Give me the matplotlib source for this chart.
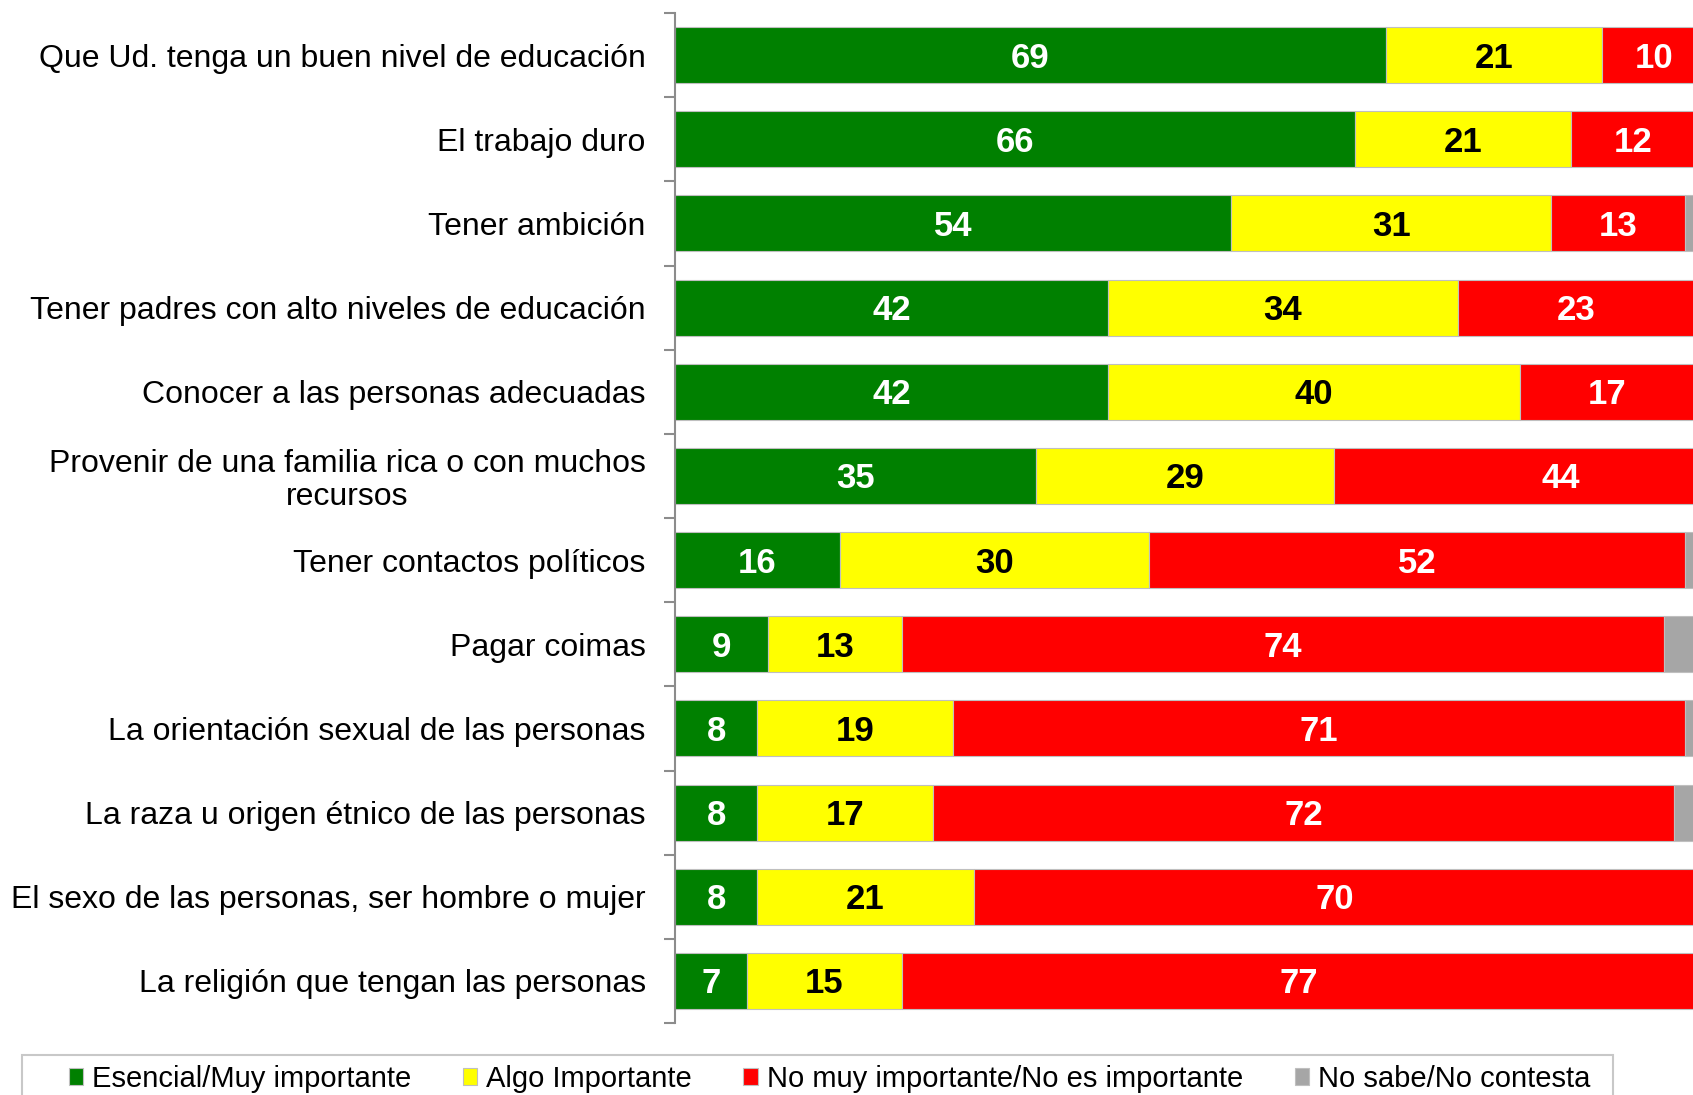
import matplotlib
matplotlib.use("Agg")
import matplotlib.pyplot as plt
from matplotlib.patches import Rectangle
import numpy as np

categories = [
    "Que Ud. tenga un buen nivel de educación",
    "El trabajo duro",
    "Tener ambición",
    "Tener padres con alto niveles de educación",
    "Conocer a las personas adecuadas",
    "Provenir de una familia rica o con muchos\nrecursos",
    "Tener contactos políticos",
    "Pagar coimas",
    "La orientación sexual de las personas",
    "La raza u origen étnico de las personas",
    "El sexo de las personas, ser hombre o mujer",
    "La religión que tengan las personas",
]
esencial = [69, 66, 54, 42, 42, 35, 16, 9, 8, 8, 8, 7]
algo = [21, 21, 31, 34, 40, 29, 30, 13, 19, 17, 21, 15]
no_muy = [10, 12, 13, 23, 17, 44, 52, 74, 71, 72, 70, 77]
no_sabe = [0, 1, 2, 1, 1, 0, 2, 4, 2, 3, 1, 1]

series_names = ["Esencial/Muy importante", "Algo Importante",
                "No muy importante/No es importante", "No sabe/No contesta"]
colors = ["#008000", "#FFFF00", "#FF0000", "#A6A6A6"]
text_colors = ["white", "black", "white", None]

plt.rcParams['font.family'] = ['Liberation Sans', 'DejaVu Sans']

W, H = 1693, 1095
fig = plt.figure(figsize=(W / 100, H / 100), dpi=100)
ax = fig.add_axes([675 / W, 1 - 1023 / H, (W - 675) / W, (1023 - 13) / H])

n = len(categories)
y = np.arange(n)
data = [esencial, algo, no_muy, no_sabe]
left = np.zeros(n)
for vals, col, tc, name in zip(data, colors, text_colors, series_names):
    vals = np.array(vals, dtype=float)
    ax.barh(y, vals, left=left, height=0.665, color=col,
            edgecolor="#BFBFBF", linewidth=0.8, label=name)
    if tc is not None:
        for yi, l, v in zip(y, left, vals):
            ax.text(l + v / 2, yi + 0.035, f"{int(v)}", ha="center", va="center",
                    color=tc, fontsize=25, fontweight="bold")
    left += vals

ax.set_xlim(0, 98.8)
ax.set_ylim(n - 0.5, -0.5)
ax.set_yticks(y)
ax.set_yticklabels(categories, fontsize=23, linespacing=1.1,
                   multialignment="center")
ax.tick_params(axis="y", which="major", length=0, pad=21)
ax.set_yticks(np.arange(-0.5, n, 1.0), minor=True)
ax.tick_params(axis="y", which="minor", length=8, width=1.5, color="#8C8C8C")
ax.set_xticks([])
for s in ["top", "right", "bottom"]:
    ax.spines[s].set_visible(False)
ax.spines["left"].set_color("#8C8C8C")
ax.spines["left"].set_linewidth(1.5)

# legend box
fig.patches.append(Rectangle((22 / W, -0.05), (1613 - 22) / W, 0.05 + 1 - 1055 / H,
                             transform=fig.transFigure, facecolor="none",
                             edgecolor="#C8C8C8", linewidth=1.5))
handles, labels = ax.get_legend_handles_labels()
leg = fig.legend(handles, labels, loc="center left", ncol=4,
                 bbox_to_anchor=(68.5 / W, 1 - 1079 / H),
                 frameon=False, fontsize=21, handlelength=0.5,
                 handleheight=0.5, handletextpad=0.3, borderaxespad=0,
                 borderpad=0, columnspacing=1.77)

fig.savefig("out.png", dpi=100)
